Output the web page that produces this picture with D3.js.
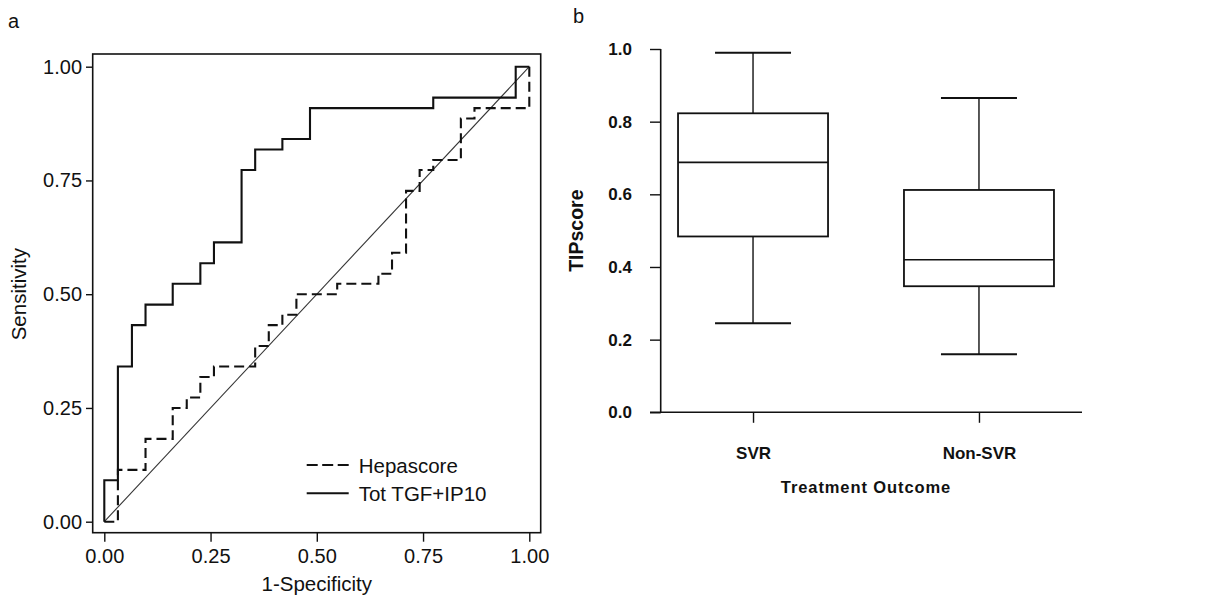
<!DOCTYPE html>
<html>
<head>
<meta charset="utf-8">
<script src="https://cdnjs.cloudflare.com/ajax/libs/d3/7.8.5/d3.min.js"></script>
<style>
  body { margin: 0; background: #fff; }
  svg text { font-family: "Liberation Sans", Arial, sans-serif; fill: #111; }
</style>
</head>
<body>
<div class="chart"></div>
<script>
"use strict";

// ROC points (1-specificity, sensitivity), drawn as steps: across, then up
var hepaFpr = [0, 0.032, 0.097, 0.161, 0.194, 0.226, 0.258, 0.355, 0.387, 0.419, 0.452, 0.548, 0.645, 0.677, 0.710, 0.742, 0.774, 0.839, 0.871, 1];
var hepaTpr = [0, 0.114, 0.182, 0.250, 0.273, 0.318, 0.341, 0.386, 0.432, 0.455, 0.500, 0.523, 0.545, 0.591, 0.727, 0.773, 0.795, 0.886, 0.909, 1];
var tgfFpr  = [0, 0, 0.032, 0.065, 0.097, 0.161, 0.226, 0.258, 0.323, 0.355, 0.419, 0.484, 0.774, 0.968, 1];
var tgfTpr  = [0, 0.091, 0.341, 0.432, 0.477, 0.523, 0.568, 0.614, 0.773, 0.818, 0.841, 0.909, 0.932, 1, 1];
var rocTicks = [0, 0.25, 0.5, 0.75, 1];
var legendNames = ["Hepascore", "Tot TGF+IP10"];

// box plot: TIPscore by treatment outcome
var groups = ["SVR", "Non-SVR"];
var whiskerLow  = [0.245, 0.160];
var quart1      = [0.484, 0.347];
var medians     = [0.688, 0.420];
var quart3      = [0.823, 0.612];
var whiskerHigh = [0.990, 0.865];
var boxTicks = [0, 0.2, 0.4, 0.6, 0.8, 1.0];

var width = 1208, height = 599;

var svg = d3.select(".chart").append("svg")
    .attr("width", width)
    .attr("height", height);

/////////////// panel a : ROC ///////////////
var x = d3.scaleLinear().domain([0, 1]).range([104.3, 529.3]);
var y = d3.scaleLinear().domain([0, 1]).range([521.7, 66.7]);

var a = svg.append("g");

a.append("rect")
    .attr("x", 92.7).attr("y", 54)
    .attr("width", 448).attr("height", 478.7)
    .attr("fill", "none").attr("stroke", "#111").attr("stroke-width", 1.6);

var yAx = a.append("g")
    .attr("transform", "translate(92.7,0)")
    .call(d3.axisLeft(y).tickValues(rocTicks).tickFormat(d3.format(".2f")).tickSize(6.7).tickPadding(4));
var xAx = a.append("g")
    .attr("transform", "translate(0,532.7)")
    .call(d3.axisBottom(x).tickValues(rocTicks).tickFormat(d3.format(".2f")).tickSize(9).tickPadding(7));
[yAx, xAx].forEach(function(g){
  g.select(".domain").remove();
  g.selectAll(".tick line").attr("stroke", "#111").attr("stroke-width", 1.4);
  g.selectAll(".tick text").style("font-size", "20px").attr("fill", "#111");
});

// reference diagonal
a.append("line")
    .attr("x1", x(0)).attr("y1", y(0))
    .attr("x2", x(1)).attr("y2", y(1))
    .attr("stroke", "#333").attr("stroke-width", 1.1);

var step = d3.line()
    .x(function(d){ return x(d[0]); })
    .y(function(d){ return y(d[1]); })
    .curve(d3.curveStepAfter);

a.append("path")
    .datum(d3.zip(hepaFpr, hepaTpr))
    .attr("d", step)
    .attr("fill", "none").attr("stroke", "#111").attr("stroke-width", 2.1)
    .attr("stroke-dasharray", "10,5");

a.append("path")
    .datum(d3.zip(tgfFpr, tgfTpr))
    .attr("d", step)
    .attr("fill", "none").attr("stroke", "#111").attr("stroke-width", 2.1);

// legend
var leg = a.append("g").attr("transform", "translate(306.7,465)");
legendNames.forEach(function(name, i){
  leg.append("line")
      .attr("x1", 0).attr("x2", 42)
      .attr("y1", i * 28.3).attr("y2", i * 28.3)
      .attr("stroke", "#111").attr("stroke-width", 2)
      .attr("stroke-dasharray", i === 0 ? "11,4.5" : null);
  leg.append("text")
      .attr("x", 52).attr("y", i * 28.3 + 7.5)
      .style("font-size", "20.5px")
      .text(name);
});

a.append("text")
    .attr("x", x(0.5)).attr("y", 591)
    .attr("text-anchor", "middle")
    .style("font-size", "20.5px")
    .text("1-Specificity");

a.append("text")
    .attr("transform", "translate(26," + y(0.5) + ") rotate(-90)")
    .attr("text-anchor", "middle")
    .style("font-size", "20.5px")
    .text("Sensitivity");

svg.append("text")
    .attr("x", 8).attr("y", 28)
    .style("font-size", "20px")
    .text("a");

/////////////// panel b : box plot ///////////////
var bx = d3.scalePoint().domain(groups).range([650, 1082]).padding(0.456);
var by = d3.scaleLinear().domain([0, 1]).range([412.3, 49]);

var b = svg.append("g");

var byAx = b.append("g")
    .attr("transform", "translate(660.7,0)")
    .call(d3.axisLeft(by).tickValues(boxTicks).tickFormat(d3.format(".1f")).tickSize(10.7).tickPadding(18));
byAx.select(".domain").attr("stroke", "#111").attr("stroke-width", 1.6)
    .attr("d", "M0," + by(1) + "V" + by(0));

var bxAx = b.append("g")
    .attr("transform", "translate(0,412.3)")
    .call(d3.axisBottom(bx).tickSize(10.5).tickPadding(24));
bxAx.select(".domain").attr("stroke", "#111").attr("stroke-width", 1.6)
    .attr("d", "M650,0H1082");

[byAx, bxAx].forEach(function(g){
  g.selectAll(".tick line").attr("stroke", "#111").attr("stroke-width", 1.4);
  g.selectAll(".tick text").style("font-size", "17px").style("font-weight", "bold").attr("fill", "#111");
});

var boxW = 150, capW = 76;
var boxes = b.selectAll(".box")
    .data(groups)
    .enter().append("g")
    .attr("class", "box");

boxes.each(function(g, i){
  var sel = d3.select(this), cx = bx(g);
  sel.append("line")
      .attr("x1", cx).attr("x2", cx)
      .attr("y1", by(whiskerHigh[i])).attr("y2", by(quart3[i]))
      .attr("stroke", "#111").attr("stroke-width", 1.4);
  sel.append("line")
      .attr("x1", cx).attr("x2", cx)
      .attr("y1", by(quart1[i])).attr("y2", by(whiskerLow[i]))
      .attr("stroke", "#111").attr("stroke-width", 1.4);
  [whiskerHigh[i], whiskerLow[i]].forEach(function(v){
    sel.append("line")
        .attr("x1", cx - capW / 2).attr("x2", cx + capW / 2)
        .attr("y1", by(v)).attr("y2", by(v))
        .attr("stroke", "#111").attr("stroke-width", 2);
  });
  sel.append("rect")
      .attr("x", cx - boxW / 2).attr("width", boxW)
      .attr("y", by(quart3[i])).attr("height", by(quart1[i]) - by(quart3[i]))
      .attr("fill", "none").attr("stroke", "#111").attr("stroke-width", 1.8);
  sel.append("line")
      .attr("x1", cx - boxW / 2).attr("x2", cx + boxW / 2)
      .attr("y1", by(medians[i])).attr("y2", by(medians[i]))
      .attr("stroke", "#111").attr("stroke-width", 1.6);
});

b.append("text")
    .attr("x", 866).attr("y", 493)
    .attr("text-anchor", "middle")
    .style("font-size", "16.5px").style("font-weight", "bold")
    .style("letter-spacing", "0.9px")
    .text("Treatment Outcome");

b.append("text")
    .attr("transform", "translate(583," + by(0.5) + ") rotate(-90)")
    .attr("text-anchor", "middle")
    .style("font-size", "19.5px").style("font-weight", "bold")
    .text("TIPscore");

svg.append("text")
    .attr("x", 573).attr("y", 23)
    .style("font-size", "20px")
    .text("b");
</script>
</body>
</html>
